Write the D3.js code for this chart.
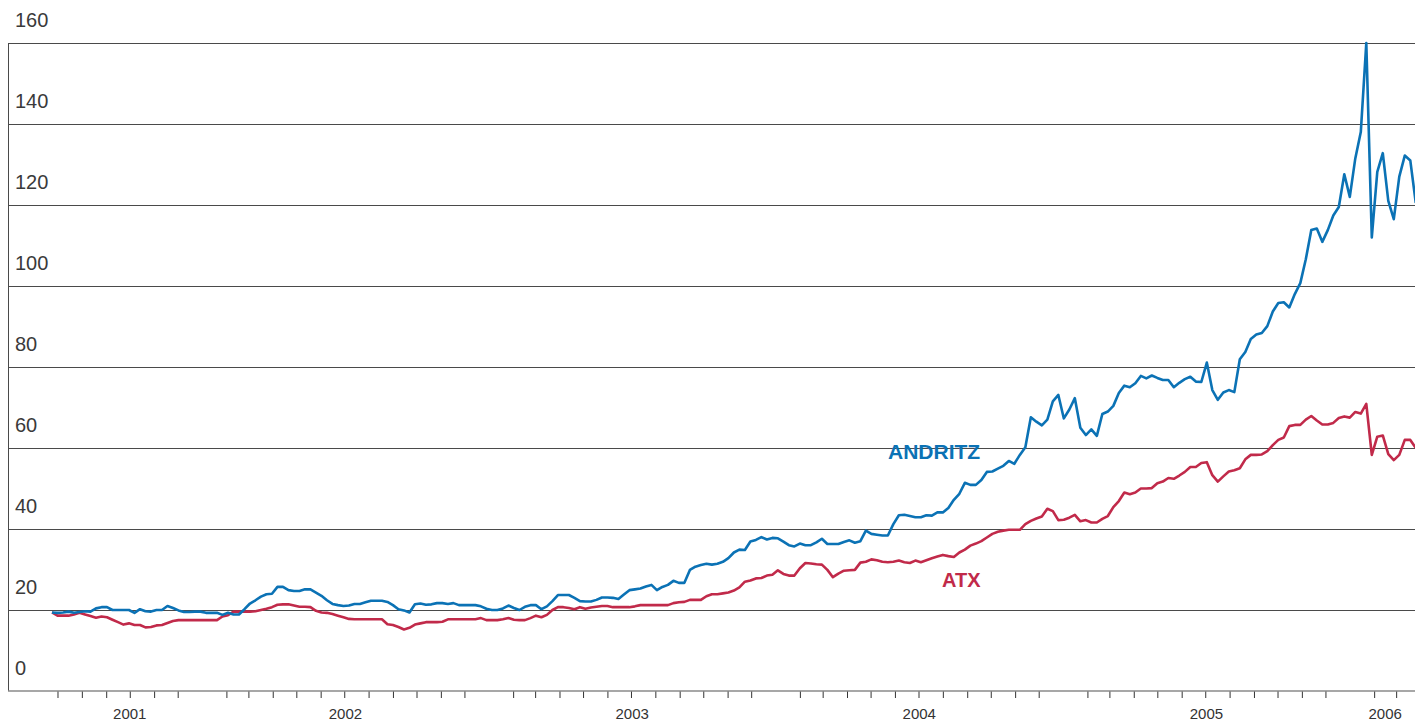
<!DOCTYPE html>
<html>
<head>
<meta charset="utf-8">
<script src="https://cdn.jsdelivr.net/npm/d3@7/dist/d3.min.js"></script>
<style>
  html, body { margin: 0; padding: 0; background: #fff; }
  svg { display: block; font-family: "Liberation Sans", Arial, Helvetica, sans-serif; }
</style>
</head>
<body>
<svg id="chart" width="1415" height="721"></svg>
<script>
// weekly closing values from the listing week (24 Jun 2001) on
var firstWeek = new Date(2001, 5, 24);

var andritz = [
  19.4, 19.3, 19.4, 19.6, 19.3, 19.5, 19.7, 19.6, 20.4, 20.7,
  20.7, 20.0, 20.0, 20.0, 20.0, 19.3, 20.2, 19.7, 19.6, 20.0,
  20.0, 21.0, 20.5, 19.9, 19.5, 19.5, 19.6, 19.6, 19.3, 19.3,
  19.3, 18.8, 19.3, 18.9, 18.9, 20.2, 21.6, 22.4, 23.3, 23.9,
  24.0, 25.7, 25.7, 24.9, 24.7, 24.7, 25.1, 25.1, 24.3, 23.5,
  22.4, 21.5, 21.2, 21.0, 21.1, 21.5, 21.5, 21.9, 22.3, 22.3,
  22.3, 22.0, 21.2, 20.2, 19.9, 19.4, 21.4, 21.6, 21.3, 21.4,
  21.7, 21.7, 21.5, 21.7, 21.2, 21.2, 21.2, 21.2, 20.9, 20.3,
  20.0, 20.0, 20.4, 21.1, 20.5, 20.0, 20.8, 21.2, 21.2, 20.2,
  20.9, 22.2, 23.7, 23.7, 23.7, 23.0, 22.2, 22.1, 22.1, 22.5,
  23.1, 23.1, 23.0, 22.7, 23.8, 24.9, 25.1, 25.3, 25.8, 26.2,
  24.9, 25.7, 26.2, 27.2, 26.7, 26.7, 29.9, 30.7, 31.1, 31.4,
  31.2, 31.4, 31.9, 32.8, 34.2, 34.9, 34.8, 36.9, 37.3, 38.0,
  37.4, 37.8, 37.7, 36.9, 36.0, 35.7, 36.4, 36.0, 36.0, 36.7,
  37.6, 36.3, 36.3, 36.3, 36.8, 37.2, 36.6, 37.0, 39.6, 38.8,
  38.6, 38.4, 38.4, 41.2, 43.4, 43.5, 43.2, 42.9, 42.9, 43.4,
  43.3, 44.1, 44.1, 45.2, 47.2, 48.7, 51.4, 50.9, 50.9, 52.1,
  54.1, 54.2, 54.9, 55.6, 56.8, 56.1, 58.3, 60.2, 67.6, 66.5,
  65.6, 67.0, 71.5, 73.1, 67.3, 69.5, 72.3, 65.0, 63.2, 64.6,
  63.0, 68.4, 69.0, 70.4, 73.6, 75.4, 75.0, 76.0, 77.8, 77.2,
  77.9, 77.3, 76.8, 76.8, 75.0, 76.1, 77.0, 77.6, 76.4, 76.3,
  81.1, 74.3, 71.9, 73.7, 74.3, 73.8, 81.9, 83.7, 86.9, 88.0,
  88.4, 90.1, 93.7, 95.8, 96.0, 94.7, 98.0, 100.7, 106.6, 113.8,
  114.2, 110.9, 113.8, 117.4, 119.5, 127.6, 122.0, 131.5, 138.0, 160.0,
  112.0, 128.2, 132.8, 121.0, 116.5, 127.0, 132.2, 131.0, 120.5
];

var atx = [
  19.4, 18.6, 18.6, 18.6, 18.9, 19.3, 18.9, 18.5, 18.1, 18.4,
  18.2, 17.6, 17.0, 16.4, 16.7, 16.3, 16.3, 15.7, 15.8, 16.2,
  16.3, 16.8, 17.3, 17.5, 17.5, 17.5, 17.5, 17.5, 17.5, 17.5,
  17.5, 18.4, 18.7, 19.6, 19.6, 19.6, 19.6, 19.7, 20.0, 20.3,
  20.7, 21.3, 21.4, 21.4, 21.1, 20.8, 20.8, 20.7, 19.8, 19.4,
  19.3, 19.0, 18.6, 18.2, 17.8, 17.7, 17.7, 17.7, 17.7, 17.7,
  17.7, 16.5, 16.3, 15.8, 15.2, 15.6, 16.4, 16.7, 17.0, 17.0,
  17.0, 17.1, 17.7, 17.7, 17.7, 17.7, 17.7, 17.7, 18.0, 17.5,
  17.5, 17.5, 17.7, 18.0, 17.6, 17.5, 17.5, 18.0, 18.6, 18.2,
  18.8, 20.0, 20.7, 20.7, 20.5, 20.2, 20.7, 20.3, 20.6, 20.8,
  21.0, 21.0, 20.7, 20.7, 20.7, 20.7, 20.9, 21.2, 21.2, 21.2,
  21.2, 21.2, 21.2, 21.7, 21.9, 22.0, 22.5, 22.5, 22.5, 23.4,
  23.9, 23.9, 24.1, 24.3, 24.8, 25.6, 27.0, 27.3, 27.8, 27.9,
  28.5, 28.7, 29.8, 28.9, 28.5, 28.5, 30.3, 31.6, 31.5, 31.3,
  31.2, 29.9, 28.1, 29.0, 29.7, 29.8, 29.9, 31.7, 31.9, 32.5,
  32.3, 31.9, 31.8, 31.9, 32.2, 31.8, 31.6, 32.2, 31.8, 32.3,
  32.8, 33.2, 33.6, 33.3, 33.1, 34.2, 34.9, 35.9, 36.4, 37.0,
  37.9, 38.8, 39.3, 39.6, 39.8, 39.8, 39.8, 41.2, 42.0, 42.6,
  43.1, 45.0, 44.4, 42.2, 42.3, 42.8, 43.5, 41.9, 42.2, 41.6,
  41.6, 42.5, 43.2, 45.4, 46.9, 49.0, 48.6, 49.0, 50.0, 50.0,
  50.1, 51.3, 51.7, 52.6, 52.4, 53.2, 54.1, 55.3, 55.3, 56.3,
  56.5, 53.3, 51.7, 53.0, 54.2, 54.5, 55.0, 57.2, 58.3, 58.3,
  58.4, 59.2, 60.7, 62.0, 62.6, 65.4, 65.7, 65.7, 67.0, 67.9,
  66.8, 65.8, 65.8, 66.2, 67.4, 67.8, 67.5, 68.9, 68.5, 70.9,
  58.3, 62.8, 63.1, 58.5, 57.0, 58.3, 62.0, 62.0, 60.0
];

var gridValues = [20, 40, 60, 80, 100, 120, 140, 160];
var yLabels = ["0", "20", "40", "60", "80", "100", "120", "140", "160"];
var years = ["2001", "2002", "2003", "2004", "2005", "2006"];
var firstMonth = new Date(2001, 6, 1);   // first month tick
var lastMonthEnd = new Date(2006, 3, 1); // end of last drawn month

var blue = "#0b72b5";
var red = "#c12a4a";

var svg = d3.select("#chart");

var x = d3.scaleTime()
  .domain([new Date(2001, 3, 29), new Date(2006, 2, 25)])
  .range([8, 1415]);

var y = d3.scaleLinear()
  .domain([0, 160])
  .range([691, 43]);

// horizontal grid
svg.append("g")
  .selectAll("line")
  .data(gridValues)
  .join("line")
    .attr("x1", 8)
    .attr("x2", 1415)
    .attr("y1", function(d) { return Math.round(y(d)) + 0.5; })
    .attr("y2", function(d) { return Math.round(y(d)) + 0.5; })
    .style("stroke", "#4a4a4a")
    .style("stroke-width", 1);

// left edge
svg.append("line")
  .attr("x1", 8.5).attr("x2", 8.5)
  .attr("y1", Math.round(y(160)) + 0.5)
  .attr("y2", y(0))
  .style("stroke", "#4a4a4a");

// y labels sit above their line
svg.append("g")
  .selectAll("text")
  .data(yLabels)
  .join("text")
    .attr("x", 15)
    .attr("y", function(d) { return y(+d) - 16; })
    .style("font-size", "20px")
    .style("fill", "#3a3a3a")
    .text(function(d) { return d; });

// month ticks, none at the turn of the year
var months = d3.timeMonth.range(firstMonth, lastMonthEnd)
  .filter(function(d) { return d.getMonth() !== 0; });

var xAxis = svg.append("g")
  .attr("transform", "translate(0," + y(0) + ")")
  .call(d3.axisBottom(x).tickValues(months).tickSize(7).tickFormat(""));
xAxis.select(".domain").remove();
xAxis.selectAll(".tick line").style("stroke", "#333");

svg.append("line")
  .attr("x1", 8).attr("x2", 1415)
  .attr("y1", y(0)).attr("y2", y(0))
  .style("stroke", "#8a8a8a")
  .style("stroke-width", 1.6);

// year labels centred on the visible months of each year
svg.append("g")
  .selectAll("text")
  .data(years)
  .join("text")
    .attr("x", function(d) {
      var from = d3.max([new Date(+d, 0, 1), firstMonth]);
      var to = d3.min([new Date(+d + 1, 0, 1), lastMonthEnd]);
      return (x(from) + x(to)) / 2;
    })
    .attr("y", 719)
    .attr("text-anchor", "middle")
    .style("font-size", "15px")
    .style("fill", "#333")
    .text(function(d) { return d; });

var line = d3.line()
  .x(function(d, i) { return x(d3.timeWeek.offset(firstWeek, i)); })
  .y(function(d) { return y(d); });

svg.append("clipPath").attr("id", "plot")
  .append("rect").attr("x", 8).attr("y", 0).attr("width", 1407).attr("height", 700);

svg.append("path")
  .datum(atx)
  .attr("clip-path", "url(#plot)")
  .attr("d", line)
  .style("fill", "none")
  .style("stroke", red)
  .style("stroke-width", 2.6)
  .style("stroke-linejoin", "round");

svg.append("path")
  .datum(andritz)
  .attr("clip-path", "url(#plot)")
  .attr("d", line)
  .style("fill", "none")
  .style("stroke", blue)
  .style("stroke-width", 2.6)
  .style("stroke-linejoin", "round");

svg.append("text")
  .attr("x", 888)
  .attr("y", 459)
  .style("font-size", "21px")
  .style("font-weight", "bold")
  .style("fill", blue)
  .text("ANDRITZ");

svg.append("text")
  .attr("x", 942)
  .attr("y", 587)
  .style("font-size", "20px")
  .style("font-weight", "bold")
  .style("fill", red)
  .text("ATX");
</script>
</body>
</html>
